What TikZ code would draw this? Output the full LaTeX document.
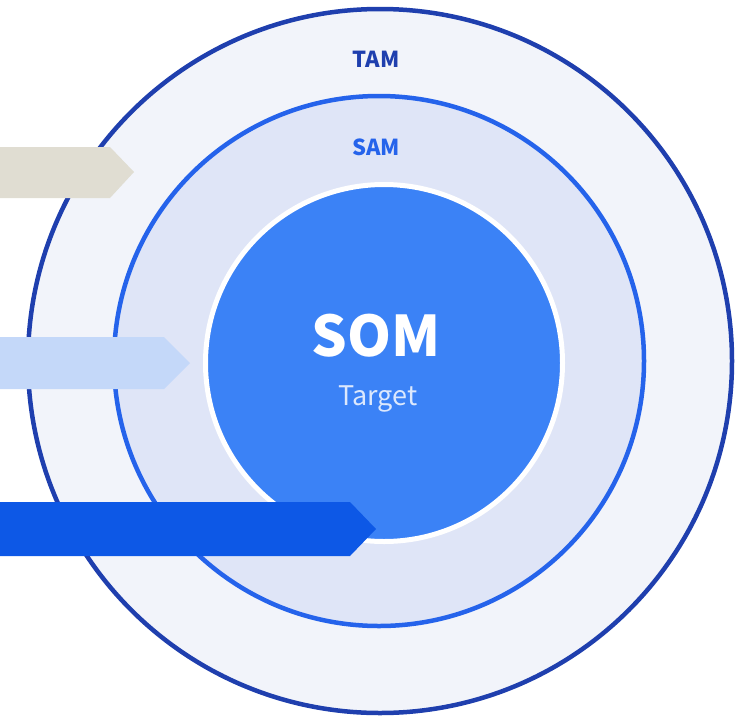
\documentclass[tikz,border=0pt]{standalone}
\usepackage{fontspec}
\setmainfont{Noto Sans CJK SC}
\begin{document}
\begin{tikzpicture}[x=1pt,y=-1pt,
  ring/.style={circle,inner sep=0pt,outer sep=0pt},
  lbl/.style={inner sep=0pt,anchor=center}]
\useasboundingbox (0,0) rectangle (744,718);
\definecolor{tamfill}{HTML}{F2F4FA}
\definecolor{tamline}{HTML}{1F3FAE}
\definecolor{samfill}{HTML}{DFE5F7}
\definecolor{samline}{HTML}{2563EB}
\definecolor{somfill}{HTML}{3B82F6}
\definecolor{beige}{HTML}{E0DDD2}
\definecolor{lightblue}{HTML}{C4D8F9}
\definecolor{darkblue}{HTML}{0D58E6}
\definecolor{targettxt}{HTML}{DCE8FD}
\node[ring,fill=tamfill,draw=tamline,line width=4.5pt,minimum size=704pt] (tam) at (380,361) {};
\node[ring,fill=samfill,draw=samline,line width=4.5pt,minimum size=530pt] (sam) at (379,361) {};
\node[ring,fill=somfill,draw=white,line width=5pt,minimum size=357pt] (som) at (384,363) {};
\node[lbl,text=tamline] (tamlbl) at (376,59) {\fontsize{22}{24}\selectfont\bfseries TAM};
\node[lbl,text=samline] (samlbl) at (376,147) {\fontsize{22}{24}\selectfont\bfseries SAM};
\node[lbl,text=white] (somlbl) at (376,336) {\fontsize{56}{60}\selectfont\bfseries SOM};
\node[lbl,text=targettxt] (target) at (378,399) {\fontsize{27}{30}\selectfont Target};
\fill[beige] (0,147) -- (110,147) -- (134,172) -- (110,198) -- (0,198) -- cycle;
\fill[lightblue] (0,337) -- (164,337) -- (190,363) -- (164,389) -- (0,389) -- cycle;
\fill[darkblue] (0,502) -- (350,502) -- (376,529) -- (350,556) -- (0,556) -- cycle;
\end{tikzpicture}
\end{document}
